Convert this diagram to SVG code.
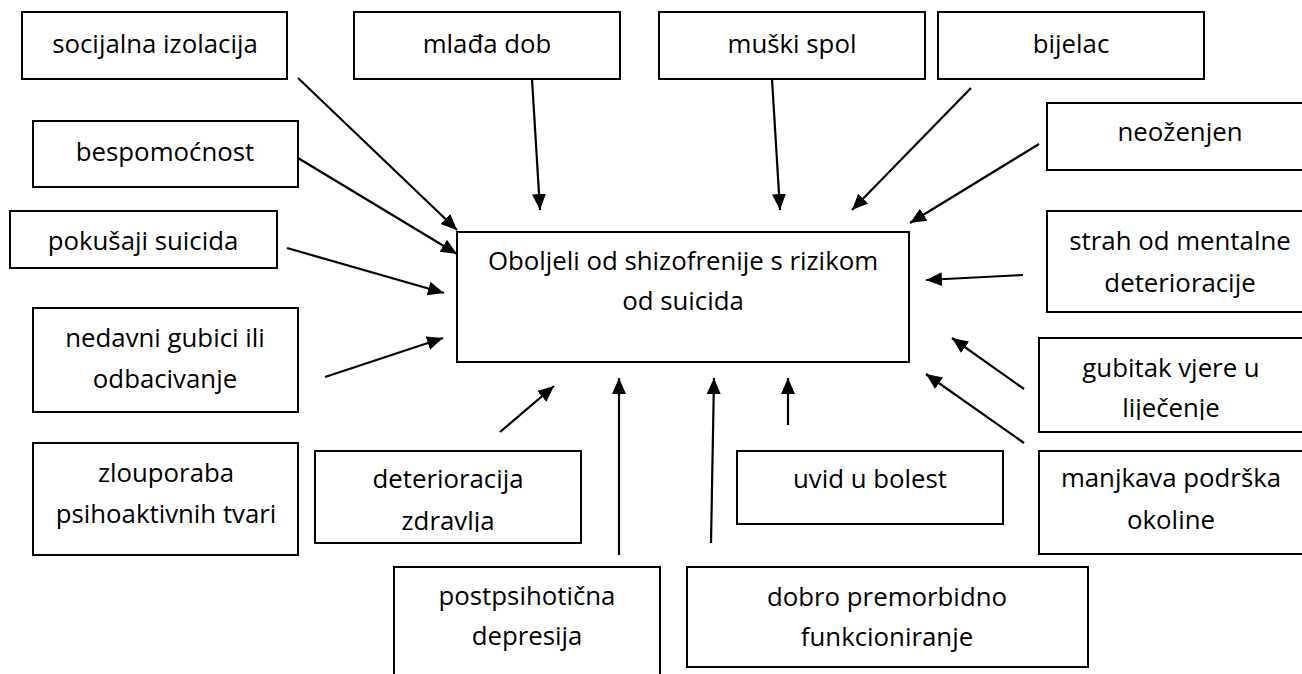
<svg xmlns="http://www.w3.org/2000/svg" width="1302" height="674" viewBox="0 0 1302 674">
<style>
.box{fill:#fff;stroke:#000;stroke-width:2}
.t{font-family:"Open Sans","Liberation Sans",sans-serif;font-size:25.8px;fill:#000;text-anchor:middle}
.c{stroke:#000;stroke-width:2.2;fill:none;marker-end:url(#ah)}
</style>
<defs>
<marker id="ah" markerUnits="userSpaceOnUse" markerWidth="17" markerHeight="15" refX="16" refY="7" orient="auto">
<path d="M0,0 L16,7 L0,14 z" fill="#000"/>
</marker>
<clipPath id="clipDet"><rect x="315" y="451" width="266" height="81"/></clipPath>
<clipPath id="clipGub"><rect x="1039" y="338" width="265" height="82"/></clipPath>
</defs>
<rect width="1302" height="674" fill="#fff"/>
<g id="n-center"><rect class="box" x="457" y="232" width="452" height="130"/><text class="t" x="683" y="270">Oboljeli od shizofrenije s rizikom</text><text class="t" x="683" y="310">od suicida</text></g>
<g id="n-socijalna"><rect class="box" x="22" y="12" width="265" height="67"/><text class="t" x="155" y="53">socijalna izolacija</text></g>
<g id="n-mlada"><rect class="box" x="354" y="12" width="266" height="67"/><text class="t" x="487" y="53">mlađa dob</text></g>
<g id="n-muski"><rect class="box" x="659" y="12" width="266" height="67"/><text class="t" x="792" y="53">muški spol</text></g>
<g id="n-bijelac"><rect class="box" x="938" y="12" width="266" height="67"/><text class="t" x="1071" y="53">bijelac</text></g>
<g id="n-neozenjen"><rect class="box" x="1047" y="103" width="267" height="67"/><text class="t" x="1180" y="141">neoženjen</text></g>
<g id="n-bespomocnost"><rect class="box" x="33" y="121" width="265" height="66"/><text class="t" x="165" y="161">bespomoćnost</text></g>
<g id="n-pokusaji"><rect class="box" x="10" y="211" width="267" height="57"/><text class="t" x="143" y="250">pokušaji suicida</text></g>
<g id="n-strah"><rect class="box" x="1047" y="211" width="267" height="101"/><text class="t" x="1180" y="250">strah od mentalne</text><text class="t" x="1180" y="292">deterioracije</text></g>
<g id="n-nedavni"><rect class="box" x="33" y="308" width="265" height="104"/><text class="t" x="165" y="347">nedavni gubici ili</text><text class="t" x="165" y="388">odbacivanje</text></g>
<g id="n-gubitak"><rect class="box" x="1039" y="338" width="265" height="94"/><g clip-path="url(#clipGub)"><text class="t" x="1171" y="377">gubitak vjere u</text><text class="t" x="1171" y="417">liječenje</text></g></g>
<g id="n-zlouporaba"><rect class="box" x="33" y="443" width="265" height="112"/><text class="t" x="166" y="482">zlouporaba</text><text class="t" x="166" y="523">psihoaktivnih tvari</text></g>
<g id="n-deterioracija"><rect class="box" x="315" y="451" width="266" height="92"/><g clip-path="url(#clipDet)"><text class="t" x="448" y="488">deterioracija</text><text class="t" x="448" y="530">zdravlja</text></g></g>
<g id="n-uvid"><rect class="box" x="737" y="451" width="266" height="73"/><text class="t" x="870" y="488">uvid u bolest</text></g>
<g id="n-manjkava"><rect class="box" x="1039" y="451" width="265" height="103"/><text class="t" x="1171" y="487">manjkava podrška</text><text class="t" x="1171" y="529">okoline</text></g>
<g id="n-postpsihoticna"><rect class="box" x="394" y="567" width="266" height="120"/><text class="t" x="527" y="605">postpsihotična</text><text class="t" x="527" y="645">depresija</text></g>
<g id="n-dobro"><rect class="box" x="687" y="567" width="401" height="100"/><text class="t" x="887" y="606">dobro premorbidno</text><text class="t" x="887" y="646">funkcioniranje</text></g>
<g id="connectors">
<line class="c" x1="298" y1="78" x2="457" y2="230"/>
<line class="c" x1="298" y1="158" x2="457" y2="254"/>
<line class="c" x1="287" y1="248" x2="444" y2="293"/>
<line class="c" x1="325" y1="377" x2="443" y2="338"/>
<line class="c" x1="532" y1="79" x2="540" y2="210"/>
<line class="c" x1="772" y1="79" x2="780" y2="210"/>
<line class="c" x1="971" y1="88" x2="852" y2="210"/>
<line class="c" x1="1039" y1="144" x2="910" y2="223"/>
<line class="c" x1="1023" y1="275" x2="926" y2="280"/>
<line class="c" x1="1024" y1="389" x2="952" y2="338"/>
<line class="c" x1="1024" y1="443" x2="926" y2="374"/>
<line class="c" x1="788" y1="425" x2="788" y2="378"/>
<line class="c" x1="711" y1="543" x2="714" y2="378"/>
<line class="c" x1="619" y1="555" x2="619" y2="378"/>
<line class="c" x1="500" y1="432" x2="554" y2="386"/>
</g>
</svg>
